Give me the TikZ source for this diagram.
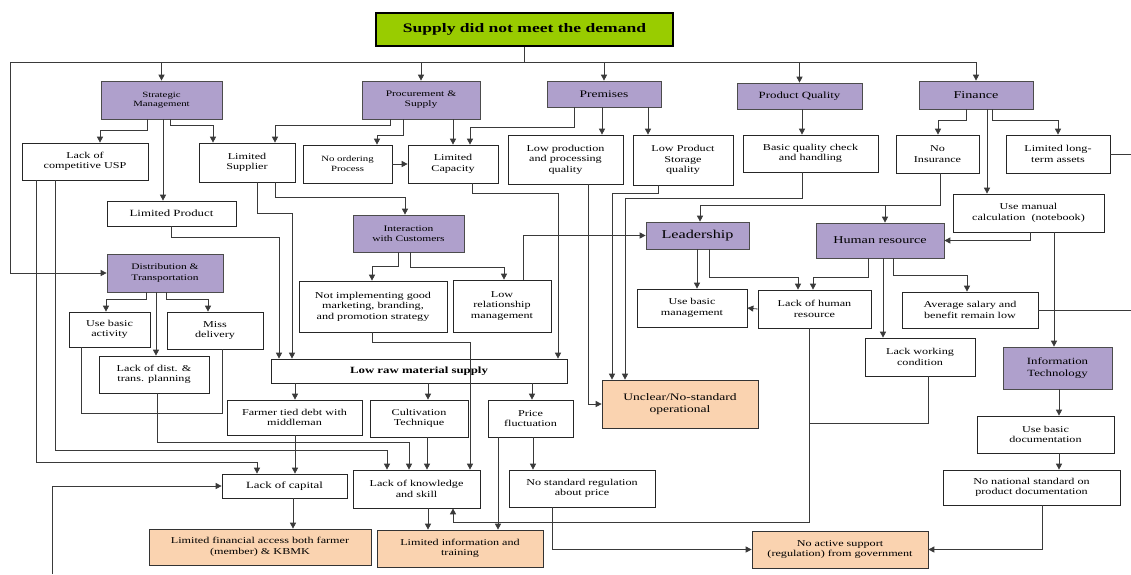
\documentclass[tikz,border=0pt]{standalone}
\usepackage{fontspec}
\setmainfont[FakeStretch=1.35]{Liberation Serif}
\usetikzlibrary{arrows.meta}
\definecolor{catfill}{HTML}{AFA0CC}
\definecolor{orfill}{HTML}{FAD3B0}
\definecolor{topfill}{HTML}{99CC00}
\definecolor{linecol}{HTML}{3A3A3A}
% box from its corners: style, x1, y1, x2, y2, name, text
\newcommand\bx[7]{\node[#1,minimum width={#4-#2},minimum height={#5-#3}] (#6) at ({(#2+#4)/2},{(#3+#5)/2}) {#7};}
\begin{document}
\begin{tikzpicture}[x=1pt,y=-1pt,
  base/.style={draw=black!85, line width=0.7pt, align=center, inner sep=1pt, font=\fontsize{9}{10.5}\selectfont},
  wbox/.style={base, fill=white},
  cat/.style={base, fill=catfill, draw=black!70},
  obox/.style={base, fill=orfill, draw=black!80},
  ln/.style={draw=linecol, line width=0.8pt},
  arr/.style={ln, -{Triangle[length=6pt,width=6pt]}}]
\fill[white] (0,0) rectangle (1131,574);
\useasboundingbox (0,0) rectangle (1131,574);

% root
\bx{base, fill=topfill, draw=black, line width=2pt, font=\fontsize{13}{15}\bfseries}{376}{13}{673}{46}{top}{Supply did not meet the demand}

% categories
\bx{cat, font=\fontsize{8}{9.5}\selectfont}{101}{81}{222}{119}{sm}{Strategic\\Management}
\bx{cat, font=\fontsize{8.5}{10}\selectfont}{362}{81}{480}{119}{ps}{Procurement \&\\Supply}
\bx{cat, font=\fontsize{10}{12}\selectfont}{547}{81}{661}{107}{pr}{Premises}
\bx{cat, font=\fontsize{9.5}{11}\selectfont}{737}{83}{862}{109}{pq}{Product Quality}
\bx{cat, font=\fontsize{10.5}{12}\selectfont}{919}{81}{1033}{109}{fi}{Finance}
\bx{cat, font=\fontsize{8.5}{10.5}\selectfont}{107}{254}{223}{292}{dt}{Distribution \&\\Transportation}
\bx{cat, font=\fontsize{8.5}{10.5}\selectfont}{353}{215}{464}{252}{ic}{Interaction\\with Customers}
\bx{cat, font=\fontsize{12}{14}\selectfont}{646}{222}{749}{249}{ld}{Leadership}
\bx{cat, font=\fontsize{10.5}{12}\selectfont}{816}{223}{944}{258}{hr}{Human resource}
\bx{cat, font=\fontsize{9.5}{11.5}\selectfont}{1003}{347}{1112}{389}{it}{Information\\Technology}

% causes
\bx{wbox}{22}{143}{148}{180}{usp}{Lack of\\competitive USP}
\bx{wbox}{199}{143}{295}{182}{ls}{Limited\\Supplier}
\bx{wbox, font=\fontsize{8}{10}\selectfont}{303}{145}{392}{183}{nop}{No ordering\\Process}
\bx{wbox}{408}{145}{498}{183}{lc}{Limited\\Capacity}
\bx{wbox}{508}{135}{623}{184}{lpq}{Low production\\and processing\\quality}
\bx{wbox}{633}{135}{733}{185}{lsq}{Low Product\\Storage\\quality}
\bx{wbox}{743}{135}{878}{172}{bqc}{Basic quality check\\and handling}
\bx{wbox}{896}{135}{979}{173}{ni}{No\\Insurance}
\bx{wbox}{1006}{135}{1110}{173}{lta}{Limited long-\\term assets}
\bx{wbox, font=\fontsize{9.5}{11}\selectfont}{107}{201}{236}{226}{lp}{Limited Product}
\bx{wbox}{953}{194}{1104}{232}{umc}{Use manual\\calculation\ \ (notebook)}
\bx{wbox}{299}{281}{447}{332}{nig}{Not implementing good\\marketing, branding,\\and promotion strategy}
\bx{wbox}{453}{280}{551}{332}{lrm}{Low\\relationship\\management}
\bx{wbox}{637}{289}{747}{327}{ubm}{Use basic\\management}
\bx{wbox}{758}{290}{871}{328}{lhr}{Lack of human\\resource}
\bx{wbox}{902}{292}{1038}{328}{asb}{Average salary and\\benefit remain low}
\bx{wbox}{69}{312}{150}{347}{uba}{Use basic\\activity}
\bx{wbox}{167}{312}{263}{349}{md}{Miss\\delivery}
\bx{wbox}{99}{356}{209}{393}{ldp}{Lack of dist. \&\\trans. planning}
\bx{wbox}{865}{338}{975}{376}{lws}{Lack working\\condition}
\bx{wbox, font=\fontsize{9.5}{11}\bfseries}{271}{359}{567}{383}{lrs}{Low raw material supply}
\bx{wbox}{227}{400}{362}{435}{ftd}{Farmer tied debt with\\middleman}
\bx{wbox}{370}{400}{468}{437}{ct}{Cultivation\\Technique}
\bx{wbox}{488}{400}{573}{437}{pf}{Price\\fluctuation}
\bx{wbox}{977}{416}{1114}{453}{ubd}{Use basic\\documentation}
\bx{wbox}{943}{470}{1120}{505}{nns}{No national standard on\\product documentation}
\bx{wbox, font=\fontsize{9.5}{11}\selectfont}{222}{474}{347}{498}{lcap}{Lack of capital}
\bx{wbox}{353}{470}{480}{508}{lks}{Lack of knowledge\\and skill}
\bx{wbox}{509}{470}{655}{507}{nsr}{No standard regulation\\about price}

% outcomes
\bx{obox, font=\fontsize{10}{12}\selectfont}{602}{380}{758}{428}{un}{Unclear/No-standard\\operational}
\bx{obox}{149}{529}{371}{565}{lfa}{Limited financial access both farmer\\(member) \& KBMK}
\bx{obox}{377}{530}{543}{567}{lit}{Limited information and\\training}
\bx{obox}{752}{531}{928}{568}{nas}{No active support\\(regulation) from government}

% free ends
\coordinate (busL) at (10,62);
\coordinate (busR) at (976,62);
\coordinate (rt1) at (1131,154);
\coordinate (rt2) at (1131,310);
\coordinate (bl) at (52,574);

% distribution bus
\draw[ln] (top.south) -- (top.south |- busL);
\draw[ln] (busL) -- (busR);
\foreach \n in {sm,ps,pr,pq,fi} \draw[arr] (\n.north |- busL) -- (\n.north);
\draw[arr] (busL) |- (dt.west);

% strategic management
\draw[arr] (sm.south -| 147,0) |- (100,130) -- (usp.north -| 100,0);
\draw[arr] (sm.south -| 163,0) -- (lp.north -| 163,0);
\draw[arr] (sm.south -| 170,0) |- (213,125) -- (ls.north -| 213,0);

% procurement and premises
\draw[arr] (ps.south -| 390,0) |- (275,125) -- (ls.north -| 275,0);
\draw[arr] (ps.south -| 403,0) |- (377,135) -- (nop.north -| 377,0);
\draw[arr] (ps.south -| 453,0) -- (lc.north -| 453,0);
\draw[arr] (pr.south -| 574,0) |- (470,127) -- (lc.north -| 470,0);
\draw[arr] (pr.south -| 602,0) -- (lpq.north -| 602,0);
\draw[arr] (pr.south -| 648,0) -- (lsq.north -| 648,0);
\draw[arr] (nop.east) -- (lc.west);

% product quality and finance
\draw[arr] (pq.south -| 802,0) -- (bqc.north -| 802,0);
\draw[arr] (fi.south -| 966,0) |- (938,120) -- (ni.north -| 938,0);
\draw[arr] (fi.south -| 992,0) |- (1058,120) -- (lta.north -| 1058,0);
\draw[arr] (fi.south -| 987,0) -- (umc.north -| 987,0);
\draw[ln] (lta.east) -- (rt1 |- lta.east);
\draw[arr] (umc.south -| 1030,0) |- (hr.east);
\draw[arr] (umc.south -| 1054,0) -- (it.north -| 1054,0);
\draw[arr] (ni.south -| 940,0) |- (700,205) -- (ld.north -| 700,0);
\draw[arr] (885,205) -- (hr.north -| 885,0);

% towards unclear operations
\draw[arr] (bqc.south -| 802,0) |- (625,198) -- (un.north -| 625,0);
\draw[arr] (lsq.south -| 658,0) |- (612,193) -- (un.north -| 612,0);
\draw[arr] (lpq.south -| 588,0) |- (un.west);
\draw[arr] (lc.south -| 472,0) |- (558,193) -- (lrs.north -| 558,0);

% leadership and human resource
\draw[arr] (ld.south -| 697,0) -- (ubm.north -| 697,0);
\draw[arr] (ld.south -| 709,0) |- (798,277) -- (lhr.north -| 798,0);
\draw[arr] (lrm.north -| 523,0) |- (ld.west);
\draw[arr] (hr.south -| 868,0) |- (813,277) -- (lhr.north -| 813,0);
\draw[arr] (hr.south -| 883,0) -- (lws.north -| 883,0);
\draw[arr] (hr.south -| 893,0) |- (967,275) -- (asb.north -| 967,0);
\draw[ln] (asb.east) -- (rt2 |- asb.east);
\draw[arr] (lhr.west) -- (ubm.east);
\draw[arr] (lhr.south -| 809,0) |- (453,522) -- (lks.south -| 453,0);
\draw[ln] (lws.south -| 928,0) |- (809,423);

% information technology
\draw[arr] (it.south -| 1059,0) -- (ubd.north -| 1059,0);
\draw[arr] (ubd.south -| 1059,0) -- (nns.north -| 1059,0);
\draw[arr] (nns.south -| 1042,0) |- (nas.east);
\draw[arr] (nsr.south -| 552,0) |- (nas.west);

% supplier and customer interaction
\draw[arr] (ls.south -| 275,0) |- (405,197) -- (ic.north -| 405,0);
\draw[arr] (ls.south -| 257,0) |- (292,213) -- (lrs.north -| 292,0);
\draw[arr] (lp.south -| 171,0) |- (279,237) -- (lrs.north -| 279,0);
\draw[arr] (ic.south -| 398,0) |- (372,266) -- (nig.north -| 372,0);
\draw[arr] (ic.south -| 410,0) |- (504,267) -- (lrm.north -| 504,0);
\draw[arr] (nig.south -| 372,0) |- (470,342) -- (lks.north -| 470,0);

% distribution and transportation
\draw[arr] (dt.south -| 146,0) |- (106,299) -- (uba.north -| 106,0);
\draw[arr] (dt.south -| 166,0) |- (208,299) -- (md.north -| 208,0);
\draw[arr] (dt.south -| 156,0) -- (ldp.north -| 156,0);
\draw[ln] (uba.south -| 81,0) |- (222,413) -- (md.south -| 222,0);
\draw[arr] (ldp.south -| 157,0) |- (409,442) -- (lks.north -| 409,0);
\draw[arr] (usp.south -| 55,0) |- (387,450) -- (lks.north -| 387,0);
\draw[arr] (usp.south -| 36,0) |- (257,462) -- (lcap.north -| 257,0);

% raw material supply chain
\draw[arr] (lrs.south -| 295,0) -- (ftd.north -| 295,0);
\draw[arr] (lrs.south -| 428,0) -- (ct.north -| 428,0);
\draw[arr] (lrs.south -| 532,0) -- (pf.north -| 532,0);
\draw[arr] (ftd.south -| 295,0) -- (lcap.north -| 295,0);
\draw[arr] (ct.south -| 427,0) -- (lks.north -| 427,0);
\draw[arr] (pf.south -| 533,0) -- (nsr.north -| 533,0);
\draw[arr] (pf.south -| 498,0) -- (lit.north -| 498,0);
\draw[arr] (lks.south -| 428,0) -- (lit.north -| 428,0);
\draw[arr] (lcap.south -| 293,0) -- (lfa.north -| 293,0);
\draw[arr] (bl) |- (lcap.west);
\end{tikzpicture}
\end{document}
